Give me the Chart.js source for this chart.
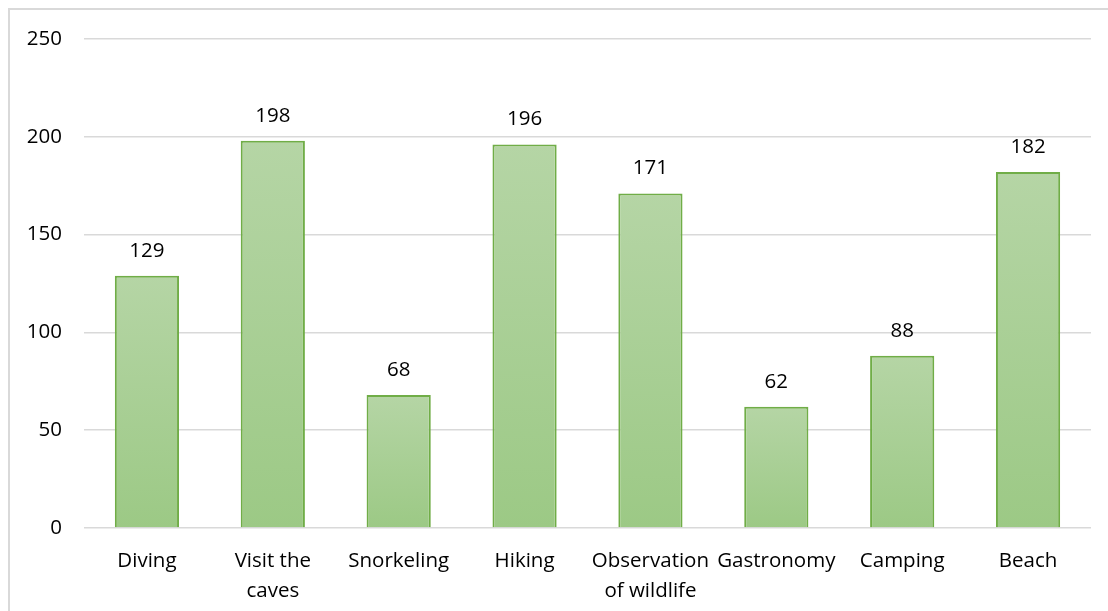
<!DOCTYPE html>
<html>
<head>
<meta charset="utf-8">
<script src="https://cdn.jsdelivr.net/npm/chart.js@4/dist/chart.umd.min.js"></script>
<style>
  html, body { margin: 0; padding: 0; background: #fff; }
  #wrap { width: 1108px; height: 611px; position: relative; }
</style>
</head>
<body>
<div id="wrap"><canvas id="activityChart" width="1108" height="611"></canvas></div>
<script>
const categories = ['Diving', ['Visit the', 'caves'], 'Snorkeling', 'Hiking', ['Observation', 'of wildlife'], 'Gastronomy', 'Camping', 'Beach'];
const counts = [129, 198, 68, 196, 171, 62, 88, 182];
const yTicks = [0, 50, 100, 150, 200, 250];

const FONT = '"Open Sans", "Noto Sans", sans-serif';
const FONT_SIZE = 20.5;

function barGradient(ctx) {
  const chart = ctx.chart;
  const y = chart.scales.y;
  if (!chart.chartArea || !y || ctx.type !== 'data') return '#a9d08e';
  const top = y.getPixelForValue(ctx.raw);
  const base = y.getPixelForValue(0);
  const g = chart.ctx.createLinearGradient(0, top, 0, base);
  g.addColorStop(0, '#b5d5a5');
  g.addColorStop(1, '#9cc985');
  return g;
}

// light grey frame around the chart, like the spreadsheet chart border
const framePlugin = {
  id: 'frame',
  beforeDraw(chart) {
    const c = chart.ctx;
    c.save();
    c.strokeStyle = '#d9d9d9';
    c.lineWidth = 2;
    c.strokeRect(9, 9, 1300, 800);
    c.restore();
  }
};

// value labels above each bar
const valueLabels = {
  id: 'valueLabels',
  afterDatasetsDraw(chart) {
    const c = chart.ctx;
    const meta = chart.getDatasetMeta(0);
    c.save();
    c.font = FONT_SIZE + 'px ' + FONT;
    c.fillStyle = '#000';
    c.textAlign = 'center';
    c.textBaseline = 'middle';
    meta.data.forEach((bar, i) => {
      c.fillText(String(counts[i]), bar.x, bar.y - 25);
    });
    c.restore();
  }
};

new Chart(document.getElementById('activityChart'), {
  type: 'bar',
  data: {
    labels: categories,
    datasets: [{
      data: counts,
      backgroundColor: barGradient,
      borderColor: '#70ad47',
      borderWidth: 2,
      categoryPercentage: 1,
      barPercentage: 0.51
    }]
  },
  options: {
    responsive: false,
    animation: false,
    layout: { padding: { left: 0, right: 17, top: 39, bottom: 0 } },
    plugins: {
      legend: { display: false },
      tooltip: { enabled: false }
    },
    scales: {
      x: {
        grid: { display: false, drawTicks: false },
        border: { display: false },
        ticks: {
          color: '#000',
          font: { family: FONT, size: FONT_SIZE, lineHeight: 1.42 },
          padding: 19,
          maxRotation: 0,
          autoSkip: false
        },
        afterFit(scale) { scale.height = 83; }
      },
      y: {
        min: 0,
        max: 250,
        afterBuildTicks(scale) { scale.ticks = yTicks.map(v => ({ value: v })); },
        grid: { color: '#d9d9d9', lineWidth: 1.5, drawTicks: false },
        border: { display: false },
        ticks: {
          color: '#000',
          font: { family: FONT, size: FONT_SIZE },
          padding: 22
        },
        afterFit(scale) { scale.width = 84; }
      }
    }
  },
  plugins: [framePlugin, valueLabels]
});
</script>
</body>
</html>
